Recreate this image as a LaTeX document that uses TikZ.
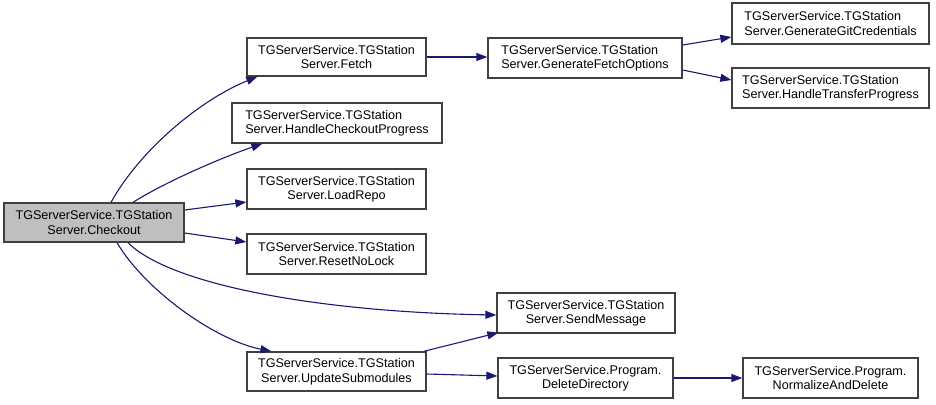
\documentclass[tikz,border=0pt]{standalone}
\usepackage{fontspec}
\setmainfont{Liberation Sans}
\usetikzlibrary{arrows.meta}
\definecolor{edgecol}{HTML}{191970}
\definecolor{boxcol}{HTML}{404040}
\definecolor{curfill}{HTML}{BFBFBF}
\tikzset{
  fn/.style={draw=boxcol, line width=1.3pt, fill=white, inner sep=0pt, align=center,
    font=\fontsize{12.6}{14.5}\selectfont},
  fnl/.style={fn, align=left},
  cur/.style={fn, fill=curfill},
  edge/.style={draw=edgecol, line width=1.1pt, -{Triangle[length=11pt,width=8pt]}}
}
\begin{document}
\begin{tikzpicture}[x=1pt,y=-1pt]
\useasboundingbox (0,0) rectangle (936,404);
\node[cur, minimum width=180pt, minimum height=39pt] (co) at (94,222.5) {TGServerService.TGStation\\Server.Checkout};
\node[fn, minimum width=179pt, minimum height=38pt] (fe) at (336.5,57) {TGServerService.TGStation\\Server.Fetch};
\node[fnl, minimum width=194pt, minimum height=40pt] (gfo) at (585,58) {TGServerService.TGStation\\Server.GenerateFetchOptions};
\node[fnl, minimum width=197pt, minimum height=41pt] (ggc) at (830.5,23.5) {TGServerService.TGStation\\Server.GenerateGitCredentials};
\node[fnl, minimum width=197pt, minimum height=40pt] (htp) at (830.5,88) {TGServerService.TGStation\\Server.HandleTransferProgress};
\node[fnl, minimum width=210pt, minimum height=40pt] (hcp) at (337,123) {TGServerService.TGStation\\Server.HandleCheckoutProgress};
\node[fn, minimum width=179pt, minimum height=40pt] (lr) at (336.5,189) {TGServerService.TGStation\\Server.LoadRepo};
\node[fn, minimum width=179pt, minimum height=40pt] (rn) at (336.5,254) {TGServerService.TGStation\\Server.ResetNoLock};
\node[fn, minimum width=178pt, minimum height=40pt] (sm) at (586,313) {TGServerService.TGStation\\Server.SendMessage};
\node[fn, minimum width=179pt, minimum height=39pt] (us) at (336.5,371.5) {TGServerService.TGStation\\Server.UpdateSubmodules};
\node[fn, minimum width=175pt, minimum height=40pt] (dd) at (585.5,378) {TGServerService.Program.\\DeleteDirectory};
\node[fn, minimum width=175pt, minimum height=40pt] (nd) at (830.5,378) {TGServerService.Program.\\NormalizeAndDelete};

\draw[edge] ([xshift=17pt]co.north) .. controls (140,150) and (200,100) .. ([xshift=11pt]fe.south west);
\draw[edge] ([xshift=39pt]co.north) .. controls (160,185) and (215,160) .. ([xshift=31pt]hcp.south west);
\draw[edge] ([yshift=12.5pt]co.east) -- ([yshift=-13pt]lr.west);
\draw[edge] ([yshift=-10.5pt]co.east) -- ([yshift=12pt]rn.west);
\draw[edge] ([xshift=34pt]co.south) .. controls (170,285) and (320,312) .. ([yshift=-2pt]sm.west);
\draw[edge] ([xshift=23pt]co.south) .. controls (145,290) and (215,340) .. ([xshift=25pt]us.north west);
\draw[edge] (fe.east) -- (fe.east -| gfo.west);
\draw[edge] ([yshift=13pt]gfo.east) -- ([yshift=-13.5pt]ggc.west);
\draw[edge] ([yshift=-12pt]gfo.east) -- ([yshift=8pt]htp.west);
\draw[edge] ([xshift=-3pt]us.north east) -- ([xshift=2pt,yshift=1pt]sm.south west);
\draw[edge] ([yshift=-2.5pt]us.east) -- ([yshift=2pt]dd.west);
\draw[edge] (dd.east) -- (nd.west);
\end{tikzpicture}
\end{document}
